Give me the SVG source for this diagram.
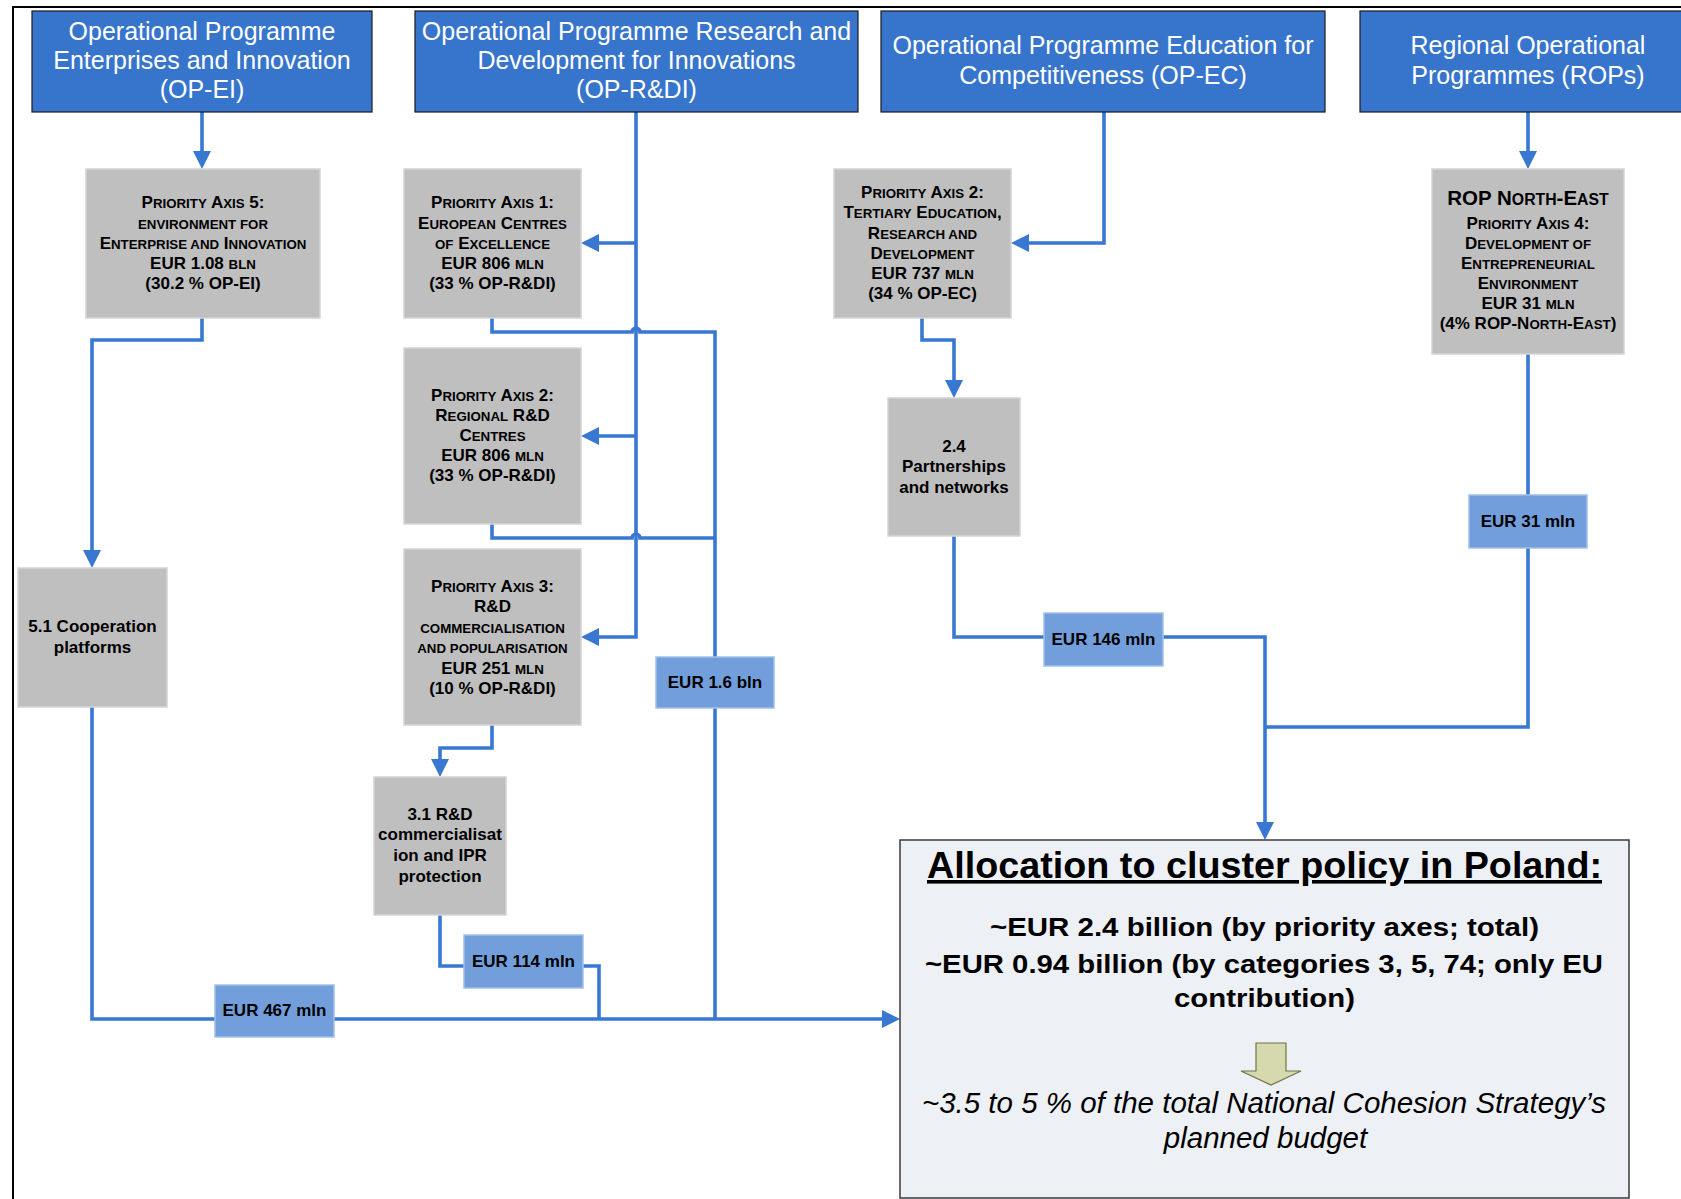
<svg xmlns="http://www.w3.org/2000/svg" width="1681" height="1199" viewBox="0 0 1681 1199">
<style>
.hdr{fill:#3775CD;stroke:#1a1a1a;stroke-width:1.2}
.ht{font-family:"Liberation Sans",Arial,sans-serif;font-size:25px;fill:#fff;text-anchor:middle}
.gb{fill:#BFBFBF;stroke:#D4D4D4;stroke-width:1.5}
.bb{fill:#729FDB;stroke:#A3C0EA;stroke-width:1.5}
.t{font-family:"Liberation Sans",Arial,sans-serif;font-weight:bold;font-size:17px;fill:#000;text-anchor:middle}
.s{font-size:13.3px}
.rt{font-size:20.5px}
.rs{font-size:15.8px}
.c{fill:none;stroke:#3878D2;stroke-width:3.6}
.a{fill:none;stroke:#3878D2;stroke-width:3.6;marker-end:url(#ah)}
.al{font-family:"Liberation Sans",Arial,sans-serif;font-weight:bold;fill:#000;text-anchor:middle}
.it{font-family:"Liberation Sans",Arial,sans-serif;font-style:italic;font-size:29.5px;fill:#000;text-anchor:middle}
</style>
<defs>
<marker id="ah" markerUnits="userSpaceOnUse" markerWidth="18" markerHeight="18" refX="10" refY="9" orient="auto">
<path d="M0,0 L18,9 L0,18 Z" fill="#3878D2"/>
</marker>
</defs>
<rect x="0" y="0" width="1681" height="1199" fill="#fff"/>
<path d="M13,1199 V7 H1681" fill="none" stroke="#000" stroke-width="2"/>

<g id="connectors">
<path class="a" d="M202,112 V161"/>
<path class="a" d="M636,112 V637 H589"/>
<path class="a" d="M636,243 H589"/>
<path class="a" d="M636,436 H589"/>
<path class="c" d="M492,318 V332 H632 A4,4 0 0 1 640,332 H715 V657"/>
<path class="c" d="M492,524 V538 H632 A4,4 0 0 1 640,538 H715"/>
<path class="c" d="M715,708 V1019"/>
<path class="a" d="M202,318 V340 H92 V560"/>
<path class="c" d="M92,707 V1019 H215"/>
<path class="a" d="M334,1019 H892"/>
<path class="a" d="M492,725 V748 H440 V769"/>
<path class="c" d="M440,915 V966 H464"/>
<path class="c" d="M583,966 H599 V1019"/>
<path class="a" d="M1104,112 V243 H1019"/>
<path class="a" d="M922,318 V340 H954 V390"/>
<path class="c" d="M954,536 V637 H1044"/>
<path class="a" d="M1163,637 H1265 V832"/>
<path class="a" d="M1528,112 V161"/>
<path class="c" d="M1528,354 V495"/>
<path class="c" d="M1528,548 V727 H1265"/>
</g>

<g id="op-ei">
<rect class="hdr" x="32" y="11" width="340" height="101"/>
<text class="ht" x="202" y="39.5">Operational Programme</text>
<text class="ht" x="202" y="68.5">Enterprises and Innovation</text>
<text class="ht" x="202" y="98">(OP-EI)</text>
</g>
<g id="op-rdi">
<rect class="hdr" x="415" y="11" width="443" height="101"/>
<text class="ht" x="636.5" y="39.5">Operational Programme Research and</text>
<text class="ht" x="636.5" y="68.5">Development for Innovations</text>
<text class="ht" x="636.5" y="98">(OP-R&amp;DI)</text>
</g>
<g id="op-ec">
<rect class="hdr" x="881" y="11" width="444" height="101"/>
<text class="ht" x="1103" y="54">Operational Programme Education for</text>
<text class="ht" x="1103" y="84">Competitiveness (OP-EC)</text>
</g>
<g id="rops">
<rect class="hdr" x="1360" y="11" width="336" height="101"/>
<text class="ht" x="1528" y="54">Regional Operational</text>
<text class="ht" x="1528" y="84">Programmes (ROPs)</text>
</g>

<g id="pa5">
<rect class="gb" x="86" y="169" width="234" height="149"/>
<text class="t" x="203" y="207.5">P<tspan class="s">RIORITY</tspan> A<tspan class="s">XIS</tspan> 5:</text>
<text class="t" x="203" y="228.5"><tspan class="s">ENVIRONMENT FOR</tspan></text>
<text class="t" x="203" y="248.5">E<tspan class="s">NTERPRISE AND</tspan> I<tspan class="s">NNOVATION</tspan></text>
<text class="t" x="203" y="269">EUR 1.08 <tspan class="s">BLN</tspan></text>
<text class="t" x="203" y="289">(30.2 % OP-EI)</text>
</g>

<g id="pa1">
<rect class="gb" x="404" y="169" width="177" height="149"/>
<text class="t" x="492.5" y="207.5">P<tspan class="s">RIORITY</tspan> A<tspan class="s">XIS</tspan> 1:</text>
<text class="t" x="492.5" y="228.5">E<tspan class="s">UROPEAN</tspan> C<tspan class="s">ENTRES</tspan></text>
<text class="t" x="492.5" y="248.5"><tspan class="s">OF</tspan> E<tspan class="s">XCELLENCE</tspan></text>
<text class="t" x="492.5" y="269">EUR 806 <tspan class="s">MLN</tspan></text>
<text class="t" x="492.5" y="289">(33 % OP-R&amp;DI)</text>
</g>

<g id="pa2-rdi">
<rect class="gb" x="404" y="348" width="177" height="176"/>
<text class="t" x="492.5" y="401">P<tspan class="s">RIORITY</tspan> A<tspan class="s">XIS</tspan> 2:</text>
<text class="t" x="492.5" y="421">R<tspan class="s">EGIONAL</tspan> R&amp;D</text>
<text class="t" x="492.5" y="441">C<tspan class="s">ENTRES</tspan></text>
<text class="t" x="492.5" y="461">EUR 806 <tspan class="s">MLN</tspan></text>
<text class="t" x="492.5" y="481">(33 % OP-R&amp;DI)</text>
</g>

<g id="pa3">
<rect class="gb" x="404" y="549" width="177" height="176"/>
<text class="t" x="492.5" y="591.5">P<tspan class="s">RIORITY</tspan> A<tspan class="s">XIS</tspan> 3:</text>
<text class="t" x="492.5" y="611.5">R&amp;D</text>
<text class="t" x="492.5" y="632.5"><tspan class="s">COMMERCIALISATION</tspan></text>
<text class="t" x="492.5" y="653"><tspan class="s">AND POPULARISATION</tspan></text>
<text class="t" x="492.5" y="673.5">EUR 251 <tspan class="s">MLN</tspan></text>
<text class="t" x="492.5" y="693.5">(10 % OP-R&amp;DI)</text>
</g>

<g id="pa2-ec">
<rect class="gb" x="834" y="169" width="177" height="149"/>
<text class="t" x="922.5" y="197.5">P<tspan class="s">RIORITY</tspan> A<tspan class="s">XIS</tspan> 2:</text>
<text class="t" x="922.5" y="217.5">T<tspan class="s">ERTIARY</tspan> E<tspan class="s">DUCATION</tspan>,</text>
<text class="t" x="922.5" y="238.5">R<tspan class="s">ESEARCH AND</tspan></text>
<text class="t" x="922.5" y="258.5">D<tspan class="s">EVELOPMENT</tspan></text>
<text class="t" x="922.5" y="278.5">EUR 737 <tspan class="s">MLN</tspan></text>
<text class="t" x="922.5" y="298.5">(34 % OP-EC)</text>
</g>

<g id="rop-ne">
<rect class="gb" x="1432" y="169" width="192" height="185"/>
<text class="t rt" x="1528" y="205">ROP N<tspan class="rs">ORTH</tspan>-E<tspan class="rs">AST</tspan></text>
<text class="t" x="1528" y="228.5">P<tspan class="s">RIORITY</tspan> A<tspan class="s">XIS</tspan> 4:</text>
<text class="t" x="1528" y="248.5">D<tspan class="s">EVELOPMENT OF</tspan></text>
<text class="t" x="1528" y="268.5">E<tspan class="s">NTREPRENEURIAL</tspan></text>
<text class="t" x="1528" y="288.5">E<tspan class="s">NVIRONMENT</tspan></text>
<text class="t" x="1528" y="308.5">EUR 31 <tspan class="s">MLN</tspan></text>
<text class="t" x="1528" y="329">(4% ROP-N<tspan class="s">ORTH</tspan>-E<tspan class="s">AST</tspan>)</text>
</g>

<g id="n24">
<rect class="gb" x="888" y="398" width="132" height="138"/>
<text class="t" x="954" y="451.5">2.4</text>
<text class="t" x="954" y="471.5">Partnerships</text>
<text class="t" x="954" y="492.5">and networks</text>
</g>

<g id="n31">
<rect class="gb" x="374" y="777" width="132" height="138"/>
<text class="t" x="440" y="820">3.1 R&amp;D</text>
<text class="t" x="440" y="840">commercialisat</text>
<text class="t" x="440" y="860.5">ion and IPR</text>
<text class="t" x="440" y="881.5">protection</text>
</g>

<g id="n51">
<rect class="gb" x="18" y="568" width="149" height="139"/>
<text class="t" x="92.5" y="632">5.1 Cooperation</text>
<text class="t" x="92.5" y="653">platforms</text>
</g>

<g id="eur16">
<rect class="bb" x="656" y="657" width="118" height="51"/>
<text class="t" x="715" y="688">EUR 1.6 bln</text>
</g>
<g id="eur146">
<rect class="bb" x="1044" y="613" width="119" height="53"/>
<text class="t" x="1103.5" y="645">EUR 146 mln</text>
</g>
<g id="eur31">
<rect class="bb" x="1469" y="495" width="118" height="53"/>
<text class="t" x="1528" y="527">EUR 31 mln</text>
</g>
<g id="eur467">
<rect class="bb" x="215" y="985" width="119" height="52"/>
<text class="t" x="274.5" y="1016">EUR 467 mln</text>
</g>
<g id="eur114">
<rect class="bb" x="464" y="935" width="119" height="53"/>
<text class="t" x="523.5" y="966.5">EUR 114 mln</text>
</g>

<g id="allocation">
<rect x="900" y="840" width="729" height="358" fill="#EDF0F5" stroke="#3a3a3a" stroke-width="1.5"/>
<text class="al" x="1264.5" y="878" font-size="36" textLength="675" lengthAdjust="spacingAndGlyphs" text-decoration="underline">Allocation to cluster policy in Poland:</text>
<text class="al" x="1264.5" y="936" font-size="26" textLength="549" lengthAdjust="spacingAndGlyphs">~EUR 2.4 billion (by priority axes; total)</text>
<text class="al" x="1264" y="972.5" font-size="26" textLength="678" lengthAdjust="spacingAndGlyphs">~EUR 0.94 billion (by categories 3, 5, 74; only EU</text>
<text class="al" x="1264.5" y="1007" font-size="26" textLength="181" lengthAdjust="spacingAndGlyphs">contribution)</text>
<polygon points="1256,1043 1286,1043 1286,1071 1301,1071 1271,1085 1241,1071 1256,1071" fill="#D6D9AE" stroke="#6E7548" stroke-width="1.2"/>
<text class="it" x="1264" y="1113">~3.5 to 5 % of the total National Cohesion Strategy’s</text>
<text class="it" x="1265.5" y="1148">planned budget</text>
</g>
</svg>
